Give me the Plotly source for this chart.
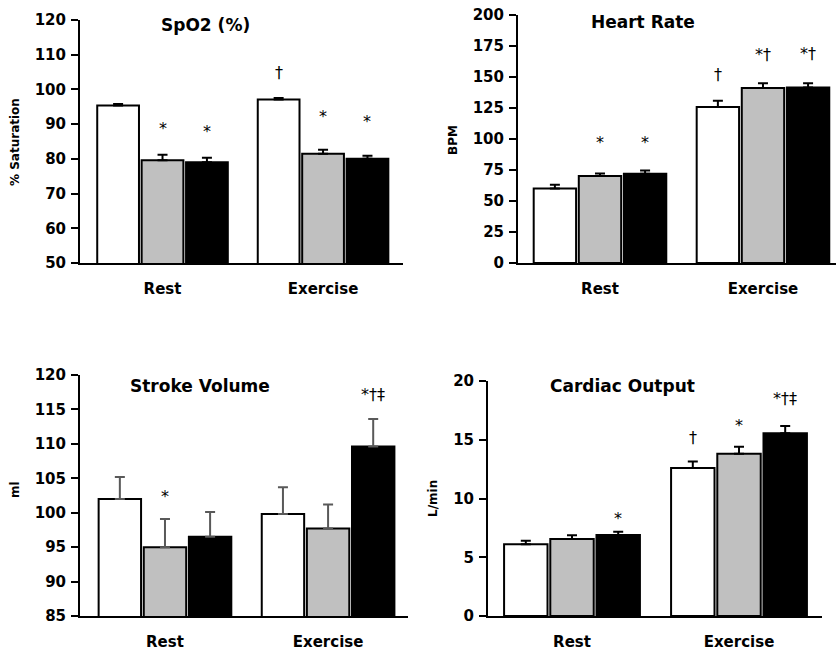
import plotly.graph_objects as go

categories = ["Rest", "Exercise"]
series_colors = ["#ffffff", "#c0c0c0", "#000000"]

# SpO2 (%)
spo2_white = [95.4, 97.1]
spo2_gray = [79.6, 81.5]
spo2_black = [79.0, 80.0]
spo2_err_white = [0.4, 0.4]
spo2_err_gray = [1.6, 1.1]
spo2_err_black = [1.3, 0.9]
spo2_marks = [(0, 1, "*", 88.8), (0, 2, "*", 88.0), (1, 0, "†", 104.8), (1, 1, "*", 92.2), (1, 2, "*", 90.7)]

# Heart rate
hr_white = [60.1, 125.9]
hr_gray = [70.1, 141.2]
hr_black = [72.0, 141.5]
hr_err_white = [3.0, 4.9]
hr_err_gray = [2.1, 3.8]
hr_err_black = [2.6, 3.5]
hr_marks = [(0, 1, "*", 97), (0, 2, "*", 97), (1, 0, "†", 152), (1, 1, "*†", 168), (1, 2, "*†", 169)]

# Stroke volume
sv_white = [102.0, 99.8]
sv_gray = [95.0, 97.7]
sv_black = [96.5, 109.6]
sv_err_white = [3.2, 3.9]
sv_err_gray = [4.1, 3.5]
sv_err_black = [3.6, 4.0]
sv_marks = [(0, 1, "*", 102.3), (1, 2, "*†‡", 117.1)]

# Cardiac output
co_white = [6.1, 12.6]
co_gray = [6.55, 13.8]
co_black = [6.9, 15.55]
co_err_white = [0.3, 0.55]
co_err_gray = [0.33, 0.6]
co_err_black = [0.27, 0.63]
co_marks = [(0, 2, "*", 8.3), (1, 0, "†", 15.2), (1, 1, "*", 16.2), (1, 2, "*†‡", 18.5)]

FONT = "DejaVu Sans"
W, H = 836, 650
BARGAP = 0.17
GROUPGAP = 0.06


def fx(px):
    return px / W


def fy(py):
    return 1 - py / H


panels = [
    dict(title="SpO2 (%)", ytitle="% Saturation", vals=[spo2_white, spo2_gray, spo2_black],
         errs=[spo2_err_white, spo2_err_gray, spo2_err_black], marks=spo2_marks,
         yrange=[50, 120], dtick=10, xrange=[-0.514, 1.498], errcolor="#000000",
         xdom=[80, 403], ydom=[20, 263], title_xy=(205, 25), ytitle_xy=(15, 142)),
    dict(title="Heart Rate", ytitle="BPM", vals=[hr_white, hr_gray, hr_black],
         errs=[hr_err_white, hr_err_gray, hr_err_black], marks=hr_marks,
         yrange=[0, 200], dtick=25, xrange=[-0.503, 1.448], errcolor="#000000",
         xdom=[518, 836], ydom=[15, 263], title_xy=(643, 22), ytitle_xy=(453, 140)),
    dict(title="Stroke Volume", ytitle="ml", vals=[sv_white, sv_gray, sv_black],
         errs=[sv_err_white, sv_err_gray, sv_err_black], marks=sv_marks,
         yrange=[85, 120], dtick=5, xrange=[-0.521, 1.49], errcolor="#595959",
         xdom=[80, 408], ydom=[375, 616], title_xy=(200, 386), ytitle_xy=(15, 490)),
    dict(title="Cardiac Output", ytitle="L/min", vals=[co_white, co_gray, co_black],
         errs=[co_err_white, co_err_gray, co_err_black], marks=co_marks,
         yrange=[0, 20], dtick=5, xrange=[-0.503, 1.497], errcolor="#000000",
         xdom=[488, 822], ydom=[381, 616], title_xy=(622, 386), ytitle_xy=(433, 498)),
]

fig = go.Figure()
annotations = []
xpos = list(range(len(categories)))
slot = (1 - BARGAP) / 3

for i, p in enumerate(panels):
    n = "" if i == 0 else str(i + 1)
    xa, ya = "x" + n, "y" + n
    for j in range(3):
        fig.add_trace(go.Bar(
            x=xpos, y=p["vals"][j], xaxis=xa, yaxis=ya,
            marker=dict(color=series_colors[j], line=dict(color="#000000", width=2)),
            error_y=dict(type="data", array=p["errs"][j], arrayminus=[0] * len(xpos),
                         symmetric=False, color=p["errcolor"], thickness=2, width=5),
            offsetgroup=str(j), showlegend=False, hoverinfo="skip",
        ))
    for (ci, sj, txt, yv) in p["marks"]:
        annotations.append(dict(x=ci + (sj - 1) * slot, y=yv, xref=xa, yref=ya, text=txt,
                                showarrow=False, font=dict(family=FONT, size=16, color="#000000"),
                                xanchor="center", yanchor="middle"))
    tx, ty = p["title_xy"]
    annotations.append(dict(x=fx(tx), y=fy(ty), xref="paper", yref="paper", text=p["title"],
                            showarrow=False, font=dict(family=FONT, size=17, color="#000000", weight="bold"),
                            xanchor="center", yanchor="middle"))
    ax, ay = p["ytitle_xy"]
    annotations.append(dict(x=fx(ax), y=fy(ay), xref="paper", yref="paper", text=p["ytitle"],
                            showarrow=False, textangle=-90,
                            font=dict(family=FONT, size=12, color="#000000", weight="bold"),
                            xanchor="center", yanchor="middle"))
    xkey = "xaxis" + n
    ykey = "yaxis" + n
    fig.layout[xkey] = dict(domain=[fx(p["xdom"][0]), min(1.0, fx(p["xdom"][1]))], range=p["xrange"],
                            anchor=ya, tickvals=xpos, ticktext=categories, ticks="",
                            showline=True, linecolor="#000000", linewidth=2, showgrid=False,
                            zeroline=False, automargin=False, ticklabelstandoff=11,
                            tickfont=dict(family=FONT, size=15, color="#000000", weight="bold"))
    fig.layout[ykey] = dict(domain=[fy(p["ydom"][1]), fy(p["ydom"][0])], range=p["yrange"],
                            anchor=xa, dtick=p["dtick"], ticks="outside", ticklen=7, tickwidth=2,
                            tickcolor="#000000", showline=True, linecolor="#000000", linewidth=2,
                            showgrid=False, zeroline=False, ticklabelstandoff=2, automargin=False,
                            tickfont=dict(family=FONT, size=15, color="#000000", weight="bold"))

fig.update_layout(
    width=W, height=H, margin=dict(l=0, r=0, t=0, b=0, pad=0, autoexpand=False),
    paper_bgcolor="#ffffff", plot_bgcolor="#ffffff",
    barmode="group", bargap=BARGAP, bargroupgap=GROUPGAP,
    annotations=annotations, showlegend=False,
)

fig.write_html("out.html", config={"displayModeBar": False, "staticPlot": True},
               post_script="document.body.style.margin='0px';")
